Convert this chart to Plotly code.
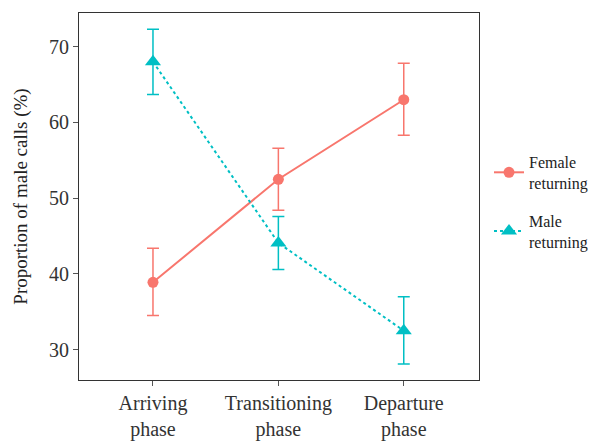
import plotly.graph_objects as go

phases = ["Arriving<br>phase", "Transitioning<br>phase", "Departure<br>phase"]
female = [38.9, 52.5, 63.0]
female_hi = [43.4, 56.6, 67.8]
female_lo = [34.5, 48.4, 58.3]
male = [68.0, 44.1, 32.5]
male_hi = [72.3, 47.6, 37.0]
male_lo = [63.7, 40.6, 28.1]
yticks = [30, 40, 50, 60, 70]

RED = "#F8766D"
CYAN = "#00BFC4"
FONT = "Liberation Serif"

xs = list(range(len(phases)))

fig = go.Figure()
fig.add_trace(go.Scatter(
    x=xs, y=female, mode="lines+markers", name="Female<br>returning",
    legendgroup="f",
    line=dict(color=RED, width=2),
    marker=dict(symbol="circle", size=11, color=RED),
    error_y=dict(type="data", symmetric=False,
                 array=[h - v for h, v in zip(female_hi, female)],
                 arrayminus=[v - l for l, v in zip(female_lo, female)],
                 color=RED, thickness=1.5, width=6),
))
fig.add_trace(go.Scatter(
    x=xs, y=male, mode="lines+markers", name="Male<br>returning",
    legendgroup="m",
    line=dict(color=CYAN, width=2, dash="3px,3px"),
    marker=dict(symbol="triangle-up", size=14, color=CYAN),
    error_y=dict(type="data", symmetric=False,
                 array=[h - v for h, v in zip(male_hi, male)],
                 arrayminus=[v - l for l, v in zip(male_lo, male)],
                 color=CYAN, thickness=1.5, width=6),
))

fig.update_layout(
    width=600, height=443,
    margin=dict(l=79, r=121, t=13, b=63, autoexpand=False),
    plot_bgcolor="white", paper_bgcolor="white",
    font=dict(family=FONT, color="#333333"),
    legend=dict(x=1.025, xanchor="left", y=0.485, yanchor="middle",
                font=dict(family=FONT, size=16, color="#222222"),
                traceorder="grouped", tracegroupgap=14,
                itemwidth=30),
    xaxis=dict(range=[-0.59, 2.6], tickmode="array", tickvals=xs, ticktext=phases,
               automargin=False,
               showgrid=False, zeroline=False, showline=True, mirror=True,
               linecolor="#333333", linewidth=1,
               ticks="outside", ticklen=5, tickcolor="#555555",
               tickfont=dict(family=FONT, size=20, color="#333333")),
    yaxis=dict(range=[26.0, 74.45], tickvals=yticks, automargin=False,
               showgrid=False, zeroline=False, showline=True, mirror=True,
               linecolor="#333333", linewidth=1,
               ticks="outside", ticklen=5, tickcolor="#555555",
               tickfont=dict(family=FONT, size=20, color="#333333"),
               title=dict(text="Proportion of male calls (%)",
                          font=dict(family=FONT, size=19, color="#222222"),
                          standoff=16)),
)

fig.write_html("out.html")
